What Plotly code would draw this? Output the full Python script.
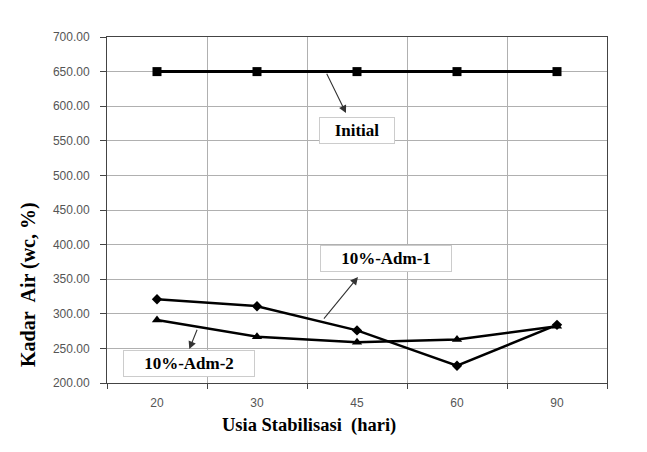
import plotly.graph_objects as go

categories = ["20", "30", "45", "60", "90"]
initial = [650, 650, 650, 650, 650]
adm1 = [321, 311, 276, 225, 284]
adm2 = [291, 267, 259, 263, 282]
y_ticks = [200, 250, 300, 350, 400, 450, 500, 550, 600, 650, 700]

W, H = 647, 452
ML, MR, MT, MB = 107, 40, 37, 69

fig = go.Figure()
fig.add_trace(go.Scatter(x=categories, y=initial, mode="lines+markers", name="Initial",
                         line=dict(color="black", width=3),
                         marker=dict(symbol="square", size=9, color="black")))
fig.add_trace(go.Scatter(x=categories, y=adm1, mode="lines+markers", name="10%-Adm-1",
                         line=dict(color="black", width=2.5),
                         marker=dict(symbol="diamond", size=8, color="black")))
fig.add_trace(go.Scatter(x=categories, y=adm2, mode="lines+markers", name="10%-Adm-2",
                         line=dict(color="black", width=2.5),
                         marker=dict(symbol="triangle-up", size=9, color="black")))

serif = "Liberation Serif, Times New Roman, serif"
label_font = dict(family=serif, size=17, color="black")

def arrow(xh, yh, xt, yt):
    fig.add_annotation(x=xh, y=yh, ax=xt, ay=yt, xref="x", yref="y", axref="x", ayref="y",
                       text="", showarrow=True, arrowhead=2, arrowsize=1.4, arrowwidth=1.1,
                       arrowcolor="#333")

def box(xc, yc, txt, w):
    fig.add_annotation(x=xc, y=yc, xref="x", yref="y", text="<b>%s</b>" % txt, showarrow=False,
                       font=label_font, bgcolor="white", bordercolor="#cccccc", borderwidth=1,
                       width=w, height=23)

arrow(1.89, 590, 1.69, 649)
box(2.0, 565, "Initial", 72)
arrow(2.01, 353, 1.657, 291)
box(2.29, 380, "10%-Adm-1", 128)
arrow(0.323, 249, 0.407, 279)
box(0.32, 228, "10%-Adm-2", 128)

def px_to_paper(px, py):
    return (px - ML) / (W - ML - MR), (H - py - MB) / (H - MT - MB)

# axis titles (offset from plot centre, as in the reference)
tx, ty = px_to_paper(309, 426)
fig.add_annotation(x=tx, y=ty, xref="paper", yref="paper", xanchor="center", yanchor="middle",
                   text="<b>Usia Stabilisasi\u00a0 (hari)</b>",
                   showarrow=False, font=dict(family=serif, size=18.5, color="black"))
tx, ty = px_to_paper(28, 285)
fig.add_annotation(x=tx, y=ty, xref="paper", yref="paper", xanchor="center", yanchor="middle",
                   text="<b>Kadar\u00a0 Air (wc, %)</b>",
                   showarrow=False, textangle=-90, font=dict(family=serif, size=20, color="black"))

fig.update_layout(
    width=W, height=H,
    margin=dict(l=ML, r=MR, t=MT, b=MB),
    paper_bgcolor="white", plot_bgcolor="white",
    showlegend=False,
    xaxis=dict(type="category", range=[-0.5, 4.5], tickson="boundaries", ticks="outside", ticklen=5,
               tickcolor="#444", showgrid=True, gridcolor="#b0b0b0", gridwidth=1,
               showline=True, linecolor="#444", linewidth=1, mirror=True,
               ticklabelstandoff=9,
               tickfont=dict(family="Liberation Sans, Arial", size=12, color="#555")),
    yaxis=dict(range=[200, 700], tickvals=y_ticks, tickformat=".2f", ticks="outside", ticklen=6,
               tickcolor="#444", showgrid=True, gridcolor="#b0b0b0", gridwidth=1,
               showline=True, linecolor="#444", linewidth=1, mirror=True, zeroline=False,
               ticklabelstandoff=8,
               tickfont=dict(family="Liberation Sans, Arial", size=12, color="#555")),
)

fig.write_html("out.html")
